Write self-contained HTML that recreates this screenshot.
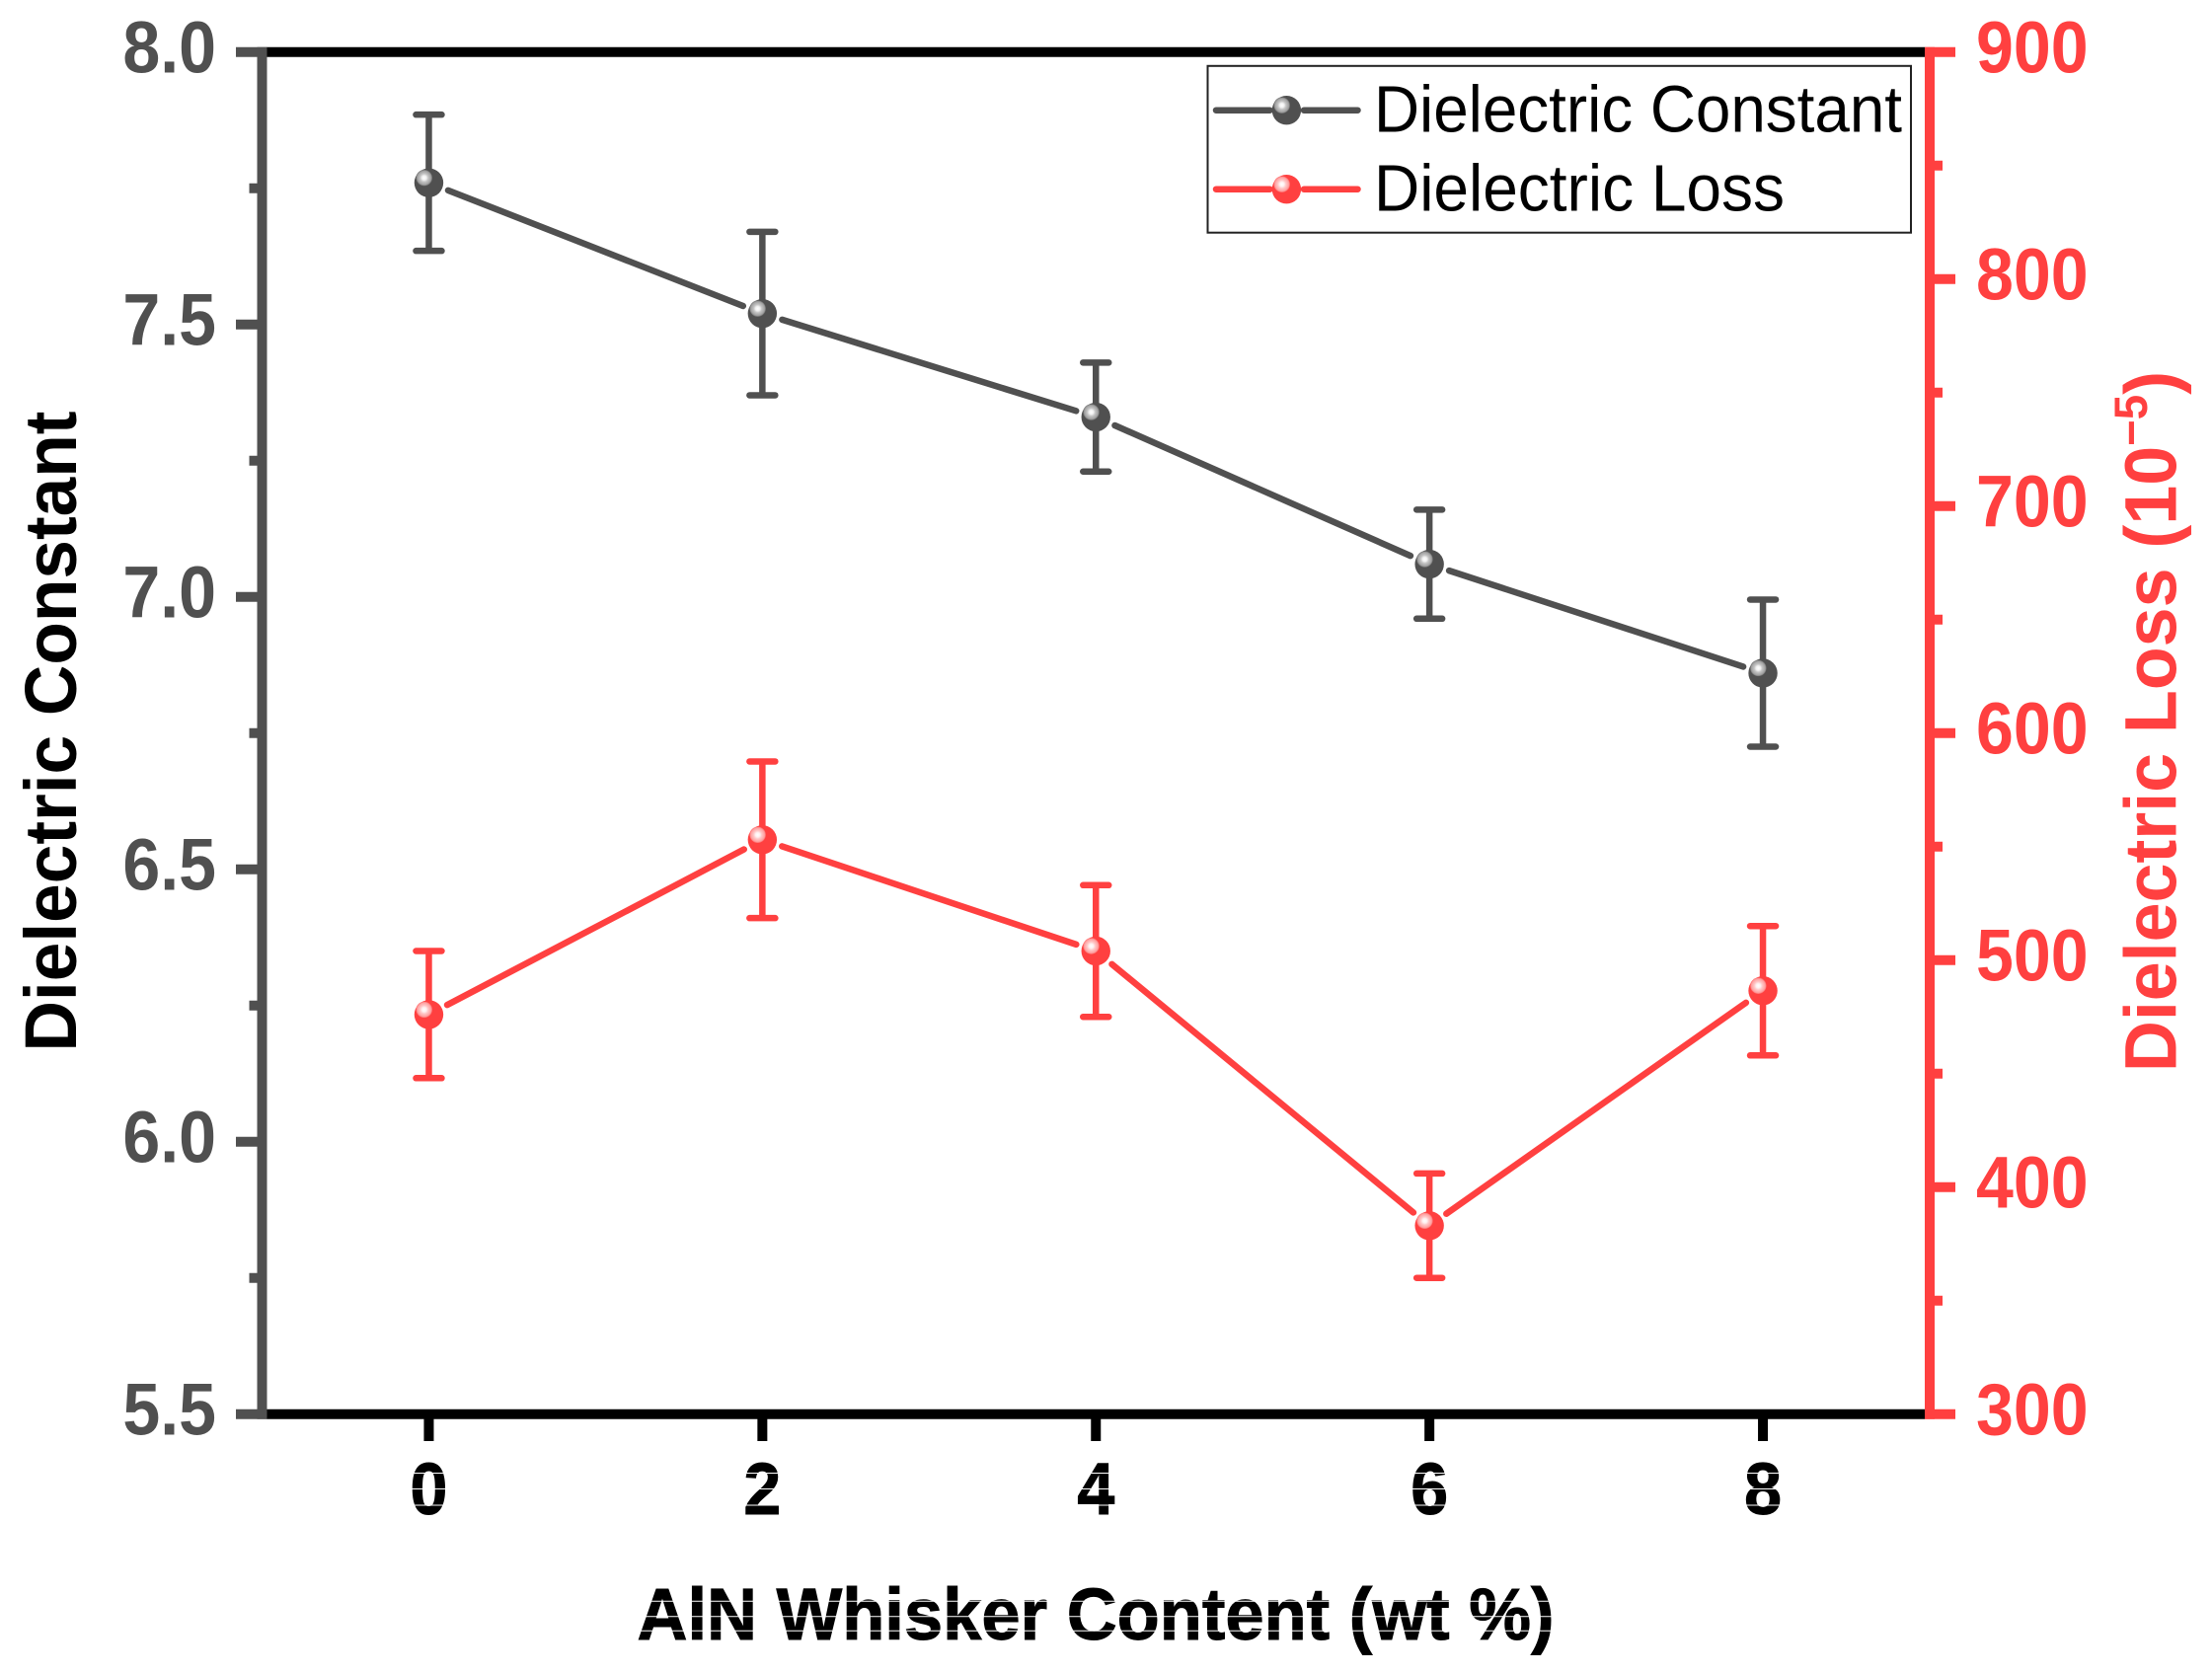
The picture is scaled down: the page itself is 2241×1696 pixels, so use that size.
<!DOCTYPE html>
<html>
<head>
<meta charset="utf-8">
<title>Dielectric Constant and Loss vs AlN Whisker Content</title>
<style>
html,body{margin:0;padding:0;background:#fff;}
svg{display:block;}
text{font-family:"Liberation Sans",sans-serif;}
</style>
</head>
<body>
<svg id="chart" xmlns="http://www.w3.org/2000/svg" width="2241" height="1696" viewBox="0 0 2241 1696">
<defs>
<radialGradient id="glossDark"><stop offset="0" stop-color="#ffffff"/><stop offset="0.28" stop-color="#f0f0f0"/><stop offset="0.5" stop-color="#c4c4c4"/><stop offset="0.85" stop-color="#a0a0a0"/><stop offset="1" stop-color="#707070"/></radialGradient>
<radialGradient id="glossRed"><stop offset="0" stop-color="#ffffff"/><stop offset="0.28" stop-color="#fff0f0"/><stop offset="0.5" stop-color="#ffc8c8"/><stop offset="0.85" stop-color="#ffa0a0"/><stop offset="1" stop-color="#ff6a6a"/></radialGradient>
</defs>
</svg>
<script>
const categories = [0, 2, 4, 6, 8];
const constantValues = [7.76, 7.52, 7.33, 7.06, 6.86];
const constantErrors = [0.125, 0.15, 0.1, 0.1, 0.135];
const lossValues = [476, 553, 504, 383, 486.5];
const lossErrors = [28, 34.5, 29, 23, 28.5];
const xTickLabels = ['0', '2', '4', '6', '8'];
const leftTickLabels = ['5.5', '6.0', '6.5', '7.0', '7.5', '8.0'];
const leftMinorTicks = [5.75, 6.25, 6.75, 7.25, 7.75];
const rightTickLabels = ['300', '400', '500', '600', '700', '800', '900'];
const rightMinorTicks = [350, 450, 550, 650, 750, 850];

const DARK = '#505050', RED = '#ff4040';
const svg = document.getElementById('chart');
const NS = 'http://www.w3.org/2000/svg';
const plot = {left: 265.5, right: 1955, top: 52.7, bottom: 1432.7};
function xScale(v) { return plot.left + (v + 1) / 10 * (plot.right - plot.left); }
function yLeft(v) { return plot.bottom - (v - 5.5) / 2.5 * (plot.bottom - plot.top); }
function yRight(v) { return plot.bottom - (v - 300) / 600 * (plot.bottom - plot.top); }

function mk(tag, attrs, parent) {
  const e = document.createElementNS(NS, tag);
  for (const k in attrs) e.setAttribute(k, attrs[k]);
  (parent || svg).appendChild(e);
  return e;
}
function line(x1, y1, x2, y2, color, w, cap, parent) {
  return mk('line', {x1, y1, x2, y2, stroke: color, 'stroke-width': w, 'stroke-linecap': cap || 'butt'}, parent);
}
function label(str, x, y, anchor, color, size, sx, extra, parent) {
  const t = mk('text', Object.assign({transform: 'translate(' + x + ',' + y + ') scale(' + sx + ',1)', 'text-anchor': anchor, fill: color, 'font-size': size, 'font-weight': 'bold'}, extra || {}), parent);
  t.textContent = str;
  return t;
}

// spines
let el = line(270, plot.top, 1950, plot.top, '#000', 10);


el = line(270, plot.bottom, 1950, plot.bottom, '#000', 10);


el = line(plot.left, plot.top - 5, plot.left, plot.bottom + 5, DARK, 10);


el = line(plot.right, plot.top - 5, plot.right, plot.bottom + 5, RED, 10);



// x ticks
xTickLabels.forEach(function (s) {
  const x = xScale(Number(s));
  const tk = line(x, plot.bottom + 4, x, 1460, '#000', 10);
  
  
  const tl = label(s, x, 1534, 'middle', '#000', 74, 0.92, {stroke: '#000', 'stroke-width': 1});
  
  
});

// left ticks
leftTickLabels.forEach(function (s) {
  const y = yLeft(Number(s));
  const tk = line(239, y, 270, y, DARK, 10);
  
  
  const tl = label(s, 219, y + 21, 'end', DARK, 74, 0.92);
  
  
});
leftMinorTicks.forEach(function (v) {
  const y = yLeft(v);
  const tk = line(252.5, y, 270, y, DARK, 10);
  
  
});

// right ticks
rightTickLabels.forEach(function (s) {
  const y = yRight(Number(s));
  const tk = line(1950, y, 1981, y, RED, 10);
  
  
  const tl = label(s, 2002, y + 21, 'start', RED, 74, 0.92);
  
  
});
rightMinorTicks.forEach(function (v) {
  const y = yRight(v);
  const tk = line(1950, y, 1968, y, RED, 10);
  
  
});

// titles
let title = mk('text', {x: 1110, y: 1661, 'text-anchor': 'middle', fill: '#000', stroke: '#000', 'stroke-width': 1, 'font-size': 74, 'font-weight': 'bold', textLength: 929, lengthAdjust: 'spacingAndGlyphs'});
title.textContent = 'AlN Whisker Content (wt %)';



// thin white raster lines that cut through the black axis text in the source image
const scanLinePositions = [[400, 1820, 1492.5], [400, 1820, 1508.5], [400, 1820, 1525], [640, 1580, 1622.3], [640, 1580, 1637.7], [640, 1580, 1652.3]];
scanLinePositions.forEach(function (p) {
  const sl = line(p[0], p[2], p[1], p[2], '#fff', 1);
  
  
});

title = mk('text', {transform: 'translate(77,741) rotate(-90)', 'text-anchor': 'middle', fill: '#000', 'font-size': 74, 'font-weight': 'bold', textLength: 649, lengthAdjust: 'spacingAndGlyphs'});
title.textContent = 'Dielectric Constant';



title = mk('text', {transform: 'translate(2204.7,1086) rotate(-90) scale(0.97,1)', fill: RED, 'font-size': 74, 'font-weight': 'bold'});
const t1 = mk('tspan', {}, title);
t1.textContent = 'Dielectric Loss (10';
const t2 = mk('tspan', {dy: -29.7, 'font-size': 47}, title);
t2.textContent = '\u22125';
const t3 = mk('tspan', {dy: 29.7}, title);
t3.textContent = ')';



// series
function marker(cx, cy, color, gloss, parent) {
  const g = mk('g', {}, parent);
  mk('circle', {cx: cx, cy: cy, r: 14.7, fill: color}, g);
  mk('circle', {cx: cx - 4.7, cy: cy - 5, r: 8.2, fill: 'url(#' + gloss + ')'}, g);
  return g;
}
function drawSeries(values, errors, yFn, color, gloss, prefix) {
  const g = mk('g', {});
  
  
  categories.forEach(function (c, i) {
    if (i === categories.length - 1) return;
    const x1 = xScale(c), y1 = yFn(values[i]);
    const x2 = xScale(categories[i + 1]), y2 = yFn(values[i + 1]);
    const d = Math.hypot(x2 - x1, y2 - y1), ux = (x2 - x1) / d, uy = (y2 - y1) / d, gap = 21;
    const seg = line(x1 + ux * gap, y1 + uy * gap, x2 - ux * gap, y2 - uy * gap, color, 6.5, 'round', g);
    
    
  });
  categories.forEach(function (c, i) {
    const x = xScale(c), hi = yFn(values[i] + errors[i]), lo = yFn(values[i] - errors[i]);
    const bar = mk('g', {}, g);
    
    
    line(x, hi, x, lo, color, 6.5, 'butt', bar);
    line(x - 13, hi, x + 13, hi, color, 6.5, 'round', bar);
    line(x - 13, lo, x + 13, lo, color, 6.5, 'round', bar);
    const m = marker(x, yFn(values[i]), color, gloss, g);
    
    
  });
}
drawSeries(constantValues, constantErrors, yLeft, DARK, 'glossDark', 'dielectric-constant');
drawSeries(lossValues, lossErrors, yRight, RED, 'glossRed', 'dielectric-loss');

// legend
const legend = mk('g', {});


const box = mk('rect', {x: 1223.5, y: 66.8, width: 712.5, height: 168.9, fill: '#fff', stroke: '#222', 'stroke-width': 2}, legend);


function legendEntry(str, y, baseline, len, color, gloss) {
  const g = mk('g', {}, legend);
  line(1232, y, 1286.5, y, color, 6.5, 'round', g);
  line(1321, y, 1375.5, y, color, 6.5, 'round', g);
  marker(1303.4, y, color, gloss, g);
  const t = mk('text', {x: 1392, y: baseline, fill: '#000', 'font-size': 67, textLength: len, lengthAdjust: 'spacingAndGlyphs'}, g);
  t.textContent = str;
  return g;
}
const e1 = legendEntry('Dielectric Constant', 111.7, 133.3, 535, DARK, 'glossDark');


const e2 = legendEntry('Dielectric Loss', 191.7, 213.3, 416, RED, 'glossRed');


</script>
</body>
</html>
